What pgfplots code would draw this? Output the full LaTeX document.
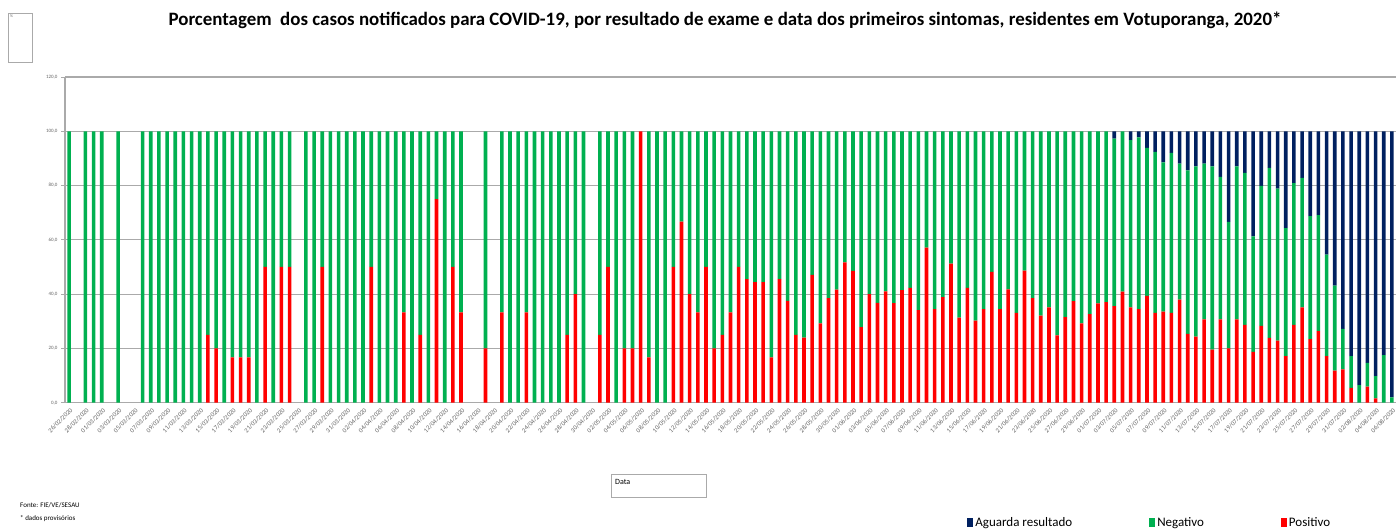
\documentclass[border=0pt]{standalone}
\usepackage{pgfplots}
\pgfplotsset{compat=1.18}
\usepackage{pgfplotstable}
\usepackage{fontspec}
\setmainfont{Carlito}
\definecolor{navy}{RGB}{0,32,96}
\definecolor{cgreen}{RGB}{0,176,80}
\definecolor{cred}{RGB}{255,0,0}
\definecolor{gridgray}{RGB}{170,170,170}
\definecolor{labgray}{RGB}{100,100,100}

\pgfplotstableread{
i P N A
0 0 100 0
2 0 100 0
3 0 100 0
4 0 100 0
6 0 100 0
9 0 100 0
10 0 100 0
11 0 100 0
12 0 100 0
13 0 100 0
14 0 100 0
15 0 100 0
16 0 100 0
17 25 75 0
18 20 80 0
19 0 100 0
20 16.7 83.3 0
21 16.7 83.3 0
22 16.7 83.3 0
23 0 100 0
24 50 50 0
25 0 100 0
26 50 50 0
27 50 50 0
29 0 100 0
30 0 100 0
31 50 50 0
32 0 100 0
33 0 100 0
34 0 100 0
35 0 100 0
36 0 100 0
37 50 50 0
38 0 100 0
39 0 100 0
40 0 100 0
41 33.3 66.7 0
42 0 100 0
43 25 75 0
44 0 100 0
45 75 25 0
46 0 100 0
47 50 50 0
48 33.3 66.7 0
51 20 80 0
53 33.3 66.7 0
54 0 100 0
55 0 100 0
56 33.3 66.7 0
57 0 100 0
58 0 100 0
59 0 100 0
60 0 100 0
61 25 75 0
62 40 60 0
63 0 100 0
65 25 75 0
66 50 50 0
67 0 100 0
68 20 80 0
69 20 80 0
70 100 0 0
71 16.7 83.3 0
72 0 100 0
73 0 100 0
74 50 50 0
75 66.7 33.3 0
76 40 60 0
77 33.3 66.7 0
78 50 50 0
79 20 80 0
80 25 75 0
81 33.3 66.7 0
82 50 50 0
83 45.5 54.5 0
84 44.4 55.6 0
85 44.4 55.6 0
86 16.7 83.3 0
87 45.5 54.5 0
88 37.5 62.5 0
89 25 75 0
90 24 76 0
91 47.1 52.9 0
92 29.2 70.8 0
93 38.5 61.5 0
94 41.7 58.3 0
95 51.7 48.3 0
96 48.6 51.4 0
97 27.8 72.2 0
98 40 60 0
99 36.8 63.2 0
100 41 59 0
101 36.7 63.3 0
102 41.5 58.5 0
103 42.3 57.7 0
104 34.1 65.9 0
105 57.1 42.9 0
106 34.5 65.5 0
107 38.9 61.1 0
108 51.2 48.8 0
109 31.3 68.7 0
110 42.3 57.7 0
111 30.2 69.8 0
112 34.5 65.5 0
113 48.2 51.8 0
114 34.5 65.5 0
115 41.8 58.2 0
116 33.1 66.9 0
117 48.7 51.3 0
118 38.5 61.5 0
119 32.1 67.9 0
120 35.1 64.9 0
121 24.8 75.2 0
122 31.5 68.5 0
123 37.4 62.6 0
124 29.2 70.8 0
125 32.6 67.4 0
126 36.6 63.4 0
127 37.1 62.9 0
128 35.6 61.7 2.7
129 40.9 59.1 0
130 35.1 61.6 3.3
131 34.5 63.3 2.2
132 39.4 54.5 6.1
133 33.1 59.3 7.6
134 33.6 54.9 11.5
135 33.1 58.9 8.0
136 38.0 50.1 11.9
137 25.4 60.2 14.4
138 24.3 62.8 12.9
139 30.7 57.4 11.9
140 19.6 67.5 12.9
141 30.7 52.5 16.8
142 20.0 46.6 33.4
143 30.7 56.4 12.9
144 28.7 56.0 15.3
145 18.7 42.6 38.7
146 28.3 51.6 20.1
147 23.9 62.6 13.5
148 22.9 56.0 21.1
149 17.2 47.1 35.7
150 28.7 52.2 19.1
151 35.1 47.7 17.2
152 23.4 45.3 31.3
153 26.4 42.7 30.9
154 17.2 37.4 45.4
155 11.8 31.3 56.9
156 12.3 14.9 72.8
157 5.5 11.7 82.8
158 0 6.5 93.5
159 5.9 8.8 85.3
160 1.6 8.2 90.2
161 0 17.5 82.5
162 0 2.0 98.0
}\data

\begin{document}
\begin{tikzpicture}
\path[use as bounding box] (0,0) rectangle (1398pt,531pt);
\begin{axis}[
  at={(65pt,128.3pt)}, anchor=south west,
  scale only axis, width=1331pt, height=325.7pt,
  xmin=-0.5, xmax=162.5, ymin=0, ymax=120,
  enlargelimits=false,
  ybar stacked, bar width=3.6pt,
  axis x line*=bottom, axis y line*=left,
  axis line style={gridgray, line width=1.2pt},
  ymajorgrids, grid style={gridgray, line width=1.2pt},
  ytick={0,20,...,120},
  yticklabels={{0,0},{20,0},{40,0},{60,0},{80,0},{100,0},{120,0}},
  yticklabel style={font=\fontsize{5}{6}\selectfont, text=labgray},
  tick align=outside,
  major tick length=4pt,
  tick style={gridgray, line width=0.8pt},
  xtick={0,2,...,162},
  xtick style={draw=none},
  minor xtick={-0.5,1.5,...,162.5},
  minor tick length=3pt,
  minor x tick style={gridgray, line width=0.6pt},
  xticklabels={26/02/2020,28/02/2020,
    01/03/2020,03/03/2020,05/03/2020,07/03/2020,09/03/2020,11/03/2020,13/03/2020,15/03/2020,17/03/2020,19/03/2020,21/03/2020,23/03/2020,25/03/2020,27/03/2020,29/03/2020,31/03/2020,
    02/04/2020,04/04/2020,06/04/2020,08/04/2020,10/04/2020,12/04/2020,14/04/2020,16/04/2020,18/04/2020,20/04/2020,22/04/2020,24/04/2020,26/04/2020,28/04/2020,30/04/2020,
    02/05/2020,04/05/2020,06/05/2020,08/05/2020,10/05/2020,12/05/2020,14/05/2020,16/05/2020,18/05/2020,20/05/2020,22/05/2020,24/05/2020,26/05/2020,28/05/2020,30/05/2020,
    01/06/2020,03/06/2020,05/06/2020,07/06/2020,09/06/2020,11/06/2020,13/06/2020,15/06/2020,17/06/2020,19/06/2020,21/06/2020,23/06/2020,25/06/2020,27/06/2020,29/06/2020,
    01/07/2020,03/07/2020,05/07/2020,07/07/2020,09/07/2020,11/07/2020,13/07/2020,15/07/2020,17/07/2020,19/07/2020,21/07/2020,23/07/2020,25/07/2020,27/07/2020,29/07/2020,31/07/2020,
    02/08/2020,04/08/2020,06/08/2020},
  xticklabel style={rotate=45, anchor=north east, font=\fontsize{6.5}{7}\selectfont, text=labgray, inner sep=1pt, xshift=1pt},
  legend columns=3,
  reverse legend,
  legend style={at={(0.815,-0.37)}, anchor=center, draw=none, fill=none,
    font=\fontsize{13}{14}\selectfont,
    /tikz/every even column/.append style={column sep=75pt}},
  legend image code/.code={\path[#1] (0pt,-4pt) rectangle (6pt,5pt);},
]
\addplot[fill=cred, draw=none] table[x=i, y=P] {\data};
\addlegendentry{Positivo}
\addplot[fill=cgreen, draw=none] table[x=i, y=N] {\data};
\addlegendentry{Negativo}
\addplot[fill=navy, draw=none] table[x=i, y=A] {\data};
\addlegendentry{Aguarda resultado}
\end{axis}
\node[font=\bfseries\fontsize{18.9}{22}\selectfont, anchor=center] at (725pt,511pt) {Porcentagem\ \ dos casos notificados para COVID-19, por resultado de exame e data dos primeiros sintomas, residentes em Votuporanga, 2020*};
\draw[gridgray, line width=0.6pt] (8pt,469pt) rectangle (32pt,518pt);
\node[anchor=north west, font=\fontsize{4}{5}\selectfont, text=labgray, inner sep=1pt] at (9pt,517pt) {\%};
\draw[gridgray, line width=0.6pt] (611pt,34pt) rectangle (706pt,57pt);
\node[anchor=west, font=\fontsize{8}{9}\selectfont, inner sep=1pt] at (614pt,49pt) {Data};
\node[anchor=west, font=\fontsize{7}{8}\selectfont, inner sep=0pt] at (20pt,26pt) {Fonte: FIE/VE/SESAU};
\node[anchor=west, font=\fontsize{7}{8}\selectfont, inner sep=0pt] at (20pt,12pt) {* dados provisórios};
\end{tikzpicture}
\end{document}
